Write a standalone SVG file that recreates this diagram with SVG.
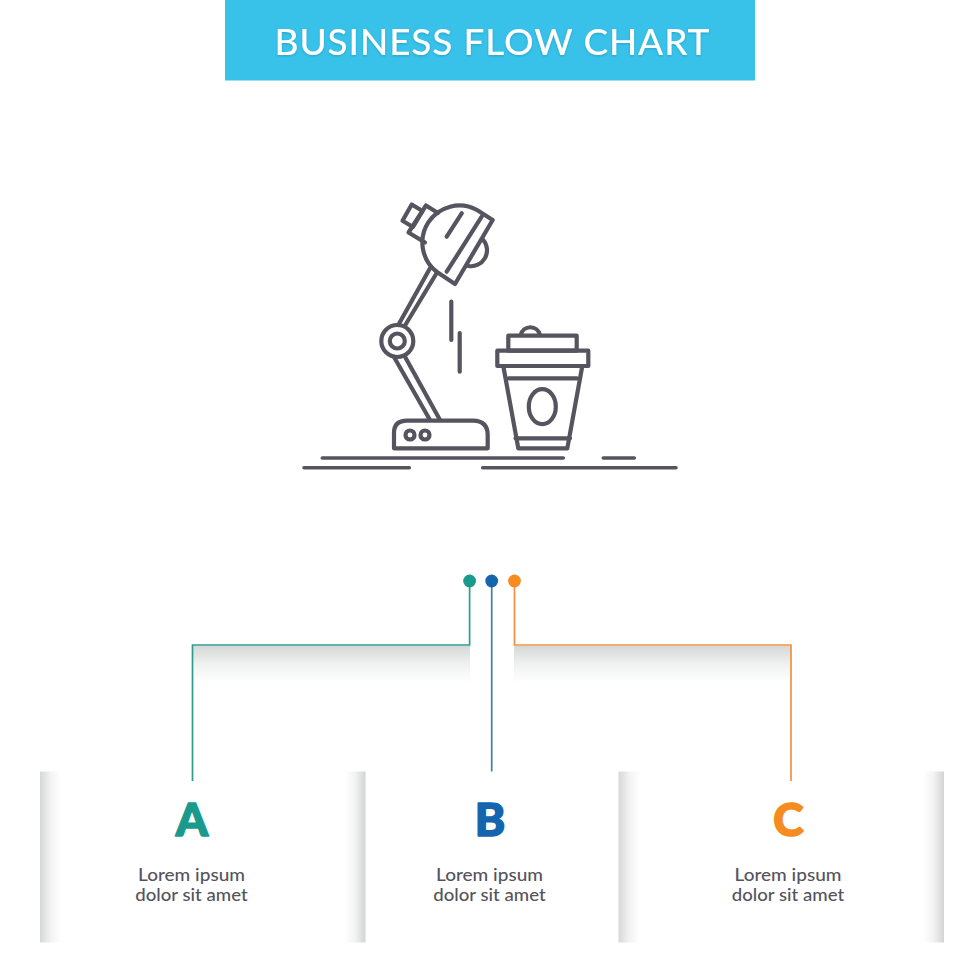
<svg xmlns="http://www.w3.org/2000/svg" width="980" height="980" viewBox="0 0 980 980">
<style>
.ic{fill:none;stroke:#56545f;stroke-width:4.2;stroke-linecap:round;stroke-linejoin:round}
.g{stroke-width:3.6}
.lb{font-family:"Lato","Liberation Sans",sans-serif;font-size:17.5px;font-weight:500;fill:#55535d;text-anchor:middle}
.let{font-family:"Lato","Liberation Sans",sans-serif;font-size:46px;font-weight:900;text-anchor:middle;stroke-width:1.6;stroke-linejoin:round}
.con{fill:none;stroke-width:1.7}
</style>
<defs>
<linearGradient id="sl" x1="0" x2="1" y1="0" y2="0"><stop offset="0" stop-color="#d6d7d7"/><stop offset="0.5" stop-color="#f2f2f2"/><stop offset="1" stop-color="#fff"/></linearGradient>
<linearGradient id="sr" x1="0" x2="1" y1="0" y2="0"><stop offset="0" stop-color="#fff"/><stop offset="0.5" stop-color="#f2f2f2"/><stop offset="1" stop-color="#d2d3d3"/></linearGradient>
<linearGradient id="sd" x1="0" x2="0" y1="0" y2="1"><stop offset="0" stop-color="#d6d8d8"/><stop offset="0.5" stop-color="#f0f1f1"/><stop offset="1" stop-color="#fff"/></linearGradient>
<filter id="ts" x="-5%" y="-20%" width="110%" height="140%"><feDropShadow dx="0" dy="1" stdDeviation="0.8" flood-color="#1d7f9c" flood-opacity="0.45"/></filter>
</defs>
<rect width="980" height="980" fill="#fff"/>
<g id="header">
<rect x="225" y="0" width="530" height="80.5" fill="#38c1e9"/>
<text x="492" y="55" font-family="Lato,'Liberation Sans',sans-serif" font-size="37" font-weight="500" fill="#fff" text-anchor="middle" textLength="435" lengthAdjust="spacing" filter="url(#ts)">BUSINESS FLOW CHART</text>
</g>
<g id="icon" class="ic">
<path d="M426,205.500L408.500,232.500L425,242.500M438,213L426,205.500"/>
<path d="M411.700,204.500L402.500,220.700L413,227L422.500,211Z"/>
<path d="M492.700,220L477,210A37,37 0 0 0 437,272L455,284Z"/>
<path d="M481.700,216.700L446.700,271.700M461.700,213.300L446.700,236.700"/>
<path d="M483.300,240A16,16 0 0 1 468.300,266"/>
<path d="M398.300,325L430,268.300M405,325.500L436.700,273"/>
<circle cx="397.300" cy="341" r="16"/>
<circle cx="397.300" cy="341" r="7.500"/>
<path d="M394,357L430,420M405,356.700L440,420"/>
<path d="M394,448.300V433Q394,420.700 407,420.700H473Q487.700,421 487.700,435V448.300Z"/>
<circle cx="410" cy="435" r="4.500"/>
<circle cx="425" cy="435" r="4.500"/>
<path d="M451.300,301.700V340M459.700,333V371.700"/>
<path d="M520.700,335A10,10.500 0 0 1 540,335"/>
<rect x="508.300" y="335.700" width="68.400" height="15"/>
<rect x="497.300" y="350.700" width="91" height="15.300"/>
<path d="M503.300,366L518.300,448.300H567.300L582.300,366"/>
<path d="M508.700,378.300H577M515.500,438.300H570"/>
<ellipse cx="542.300" cy="406.700" rx="13.500" ry="17.500"/>
<path class="g" d="M322.300,458H563.300M603.300,458H634.300M304,467.700H409.300M482.700,467.700H676"/>
</g>
<g id="connectors">
<rect x="193" y="646" width="277" height="37" fill="url(#sd)"/>
<rect x="514" y="646" width="277" height="37" fill="url(#sd)"/>
<path class="con" stroke="#2f9c8f" d="M469.600,585V645H192.500V781"/>
<path class="con" stroke="#3f7fa6" d="M491.700,585V771.500"/>
<path class="con" stroke="#f09040" d="M514.500,585V645H791V781"/>
<circle cx="469.600" cy="581" r="6.400" fill="#1a9a8c"/>
<circle cx="491.700" cy="581" r="6.400" fill="#1465ad"/>
<circle cx="514.500" cy="581" r="6.400" fill="#f68b1f"/>
</g>
<g id="node-a">
<rect x="40" y="771.500" width="21" height="171" fill="url(#sl)"/>
<rect x="345" y="771.500" width="20.500" height="171" fill="url(#sr)"/>
<text class="let" x="192" y="836" fill="#1a9a8c" stroke="#1a9a8c">A</text>
<text class="lb" x="191.500" y="880.500" textLength="107" lengthAdjust="spacingAndGlyphs">Lorem ipsum</text>
<text class="lb" x="191.500" y="900.500" textLength="112.500" lengthAdjust="spacingAndGlyphs">dolor sit amet</text>
</g>
<g id="node-b">
<text class="let" x="490" y="836" fill="#1465ad" stroke="#1465ad">B</text>
<text class="lb" x="489.500" y="880.500" textLength="107" lengthAdjust="spacingAndGlyphs">Lorem ipsum</text>
<text class="lb" x="489.500" y="900.500" textLength="112.500" lengthAdjust="spacingAndGlyphs">dolor sit amet</text>
</g>
<g id="node-c">
<rect x="618.500" y="771.500" width="21" height="171" fill="url(#sl)"/>
<rect x="923.500" y="771.500" width="20.500" height="171" fill="url(#sr)"/>
<text class="let" x="788.500" y="836" fill="#f68b1f" stroke="#f68b1f">C</text>
<text class="lb" x="788" y="880.500" textLength="107" lengthAdjust="spacingAndGlyphs">Lorem ipsum</text>
<text class="lb" x="788" y="900.500" textLength="112.500" lengthAdjust="spacingAndGlyphs">dolor sit amet</text>
</g>
</svg>
